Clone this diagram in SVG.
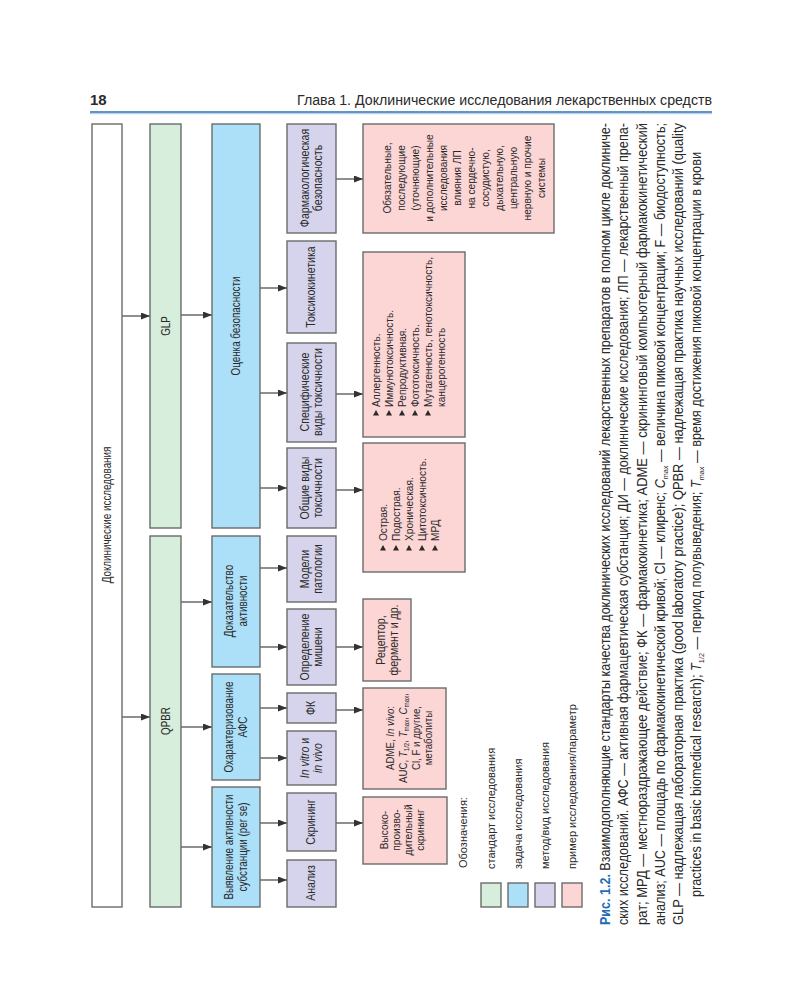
<svg xmlns="http://www.w3.org/2000/svg" width="800" height="1000" viewBox="0 0 800 1000">
<defs>
<style>
text{font-family:"Liberation Sans",Arial,sans-serif;fill:#2a2a2a}
.box{stroke:#6b6b6b;stroke-width:1.4}
.w{fill:#ffffff}.g{fill:#d8eedc}.b{fill:#acdff8}.l{fill:#d6d4ec}.p{fill:#fcd5d5}
.c{text-anchor:middle}
.t12{font-size:12px}.t115{font-size:11.5px}.t11{font-size:11px}
.cap{font-size:14px}
#connectors line{stroke:#333;stroke-width:1.1;marker-end:url(#ah)}
.bul{fill:#2a2a2a}
</style>
<marker id="ah" markerUnits="userSpaceOnUse" markerWidth="9" markerHeight="7" refX="9" refY="3.5" orient="auto">
<path d="M0,0 L9,3.5 L0,7 z" fill="#333"/>
</marker>
<path id="bul" class="bul" d="M-2.5,-3 L3,0 L-2.5,3 z"/>
</defs>
<rect x="0" y="0" width="800" height="1000" fill="#ffffff"/>
<g id="header">
<text x="90" y="105" style="font-size:15px;font-weight:bold">18</text>
<text x="712" y="105" text-anchor="end" style="font-size:14px" textLength="415" lengthAdjust="spacingAndGlyphs">Глава 1. Доклинические исследования лекарственных средств</text>
<line x1="90" y1="112" x2="712" y2="112" stroke="#2e6fb7" stroke-width="1.5"/>
<line x1="90" y1="113.7" x2="712" y2="113.7" stroke="#a9c9e9" stroke-width="1"/>
</g>
<g transform="translate(0,1000) rotate(-90)">
<g id="connectors">
<line x1="684" y1="122" x2="684" y2="150"/>
<line x1="283" y1="122" x2="283" y2="150"/>
<line x1="685" y1="181" x2="685" y2="212"/>
<line x1="398" y1="181" x2="398" y2="212"/>
<line x1="273" y1="181" x2="273" y2="212"/>
<line x1="153" y1="181" x2="153" y2="212"/>
<line x1="712" y1="260" x2="712" y2="287"/>
<line x1="607" y1="260" x2="607" y2="287"/>
<line x1="512" y1="260" x2="512" y2="287"/>
<line x1="432" y1="260" x2="432" y2="287"/>
<line x1="353" y1="260" x2="353" y2="287"/>
<line x1="292" y1="260" x2="292" y2="287"/>
<line x1="242" y1="260" x2="242" y2="287"/>
<line x1="177" y1="260" x2="177" y2="287"/>
<line x1="120" y1="260" x2="120" y2="287"/>
<line x1="821" y1="336" x2="821" y2="363"/>
<line x1="606" y1="336" x2="606" y2="363"/>
<line x1="510" y1="336" x2="510" y2="363"/>
<line x1="353" y1="336" x2="353" y2="363"/>
<line x1="290" y1="336" x2="290" y2="363"/>
<line x1="177" y1="336" x2="177" y2="363"/>
</g>
<g id="n-preclin"><rect class="box w" x="93" y="92" width="783" height="30"/><g transform="scale(0.82,1)"><text class="c t12" x="591.5" y="111">Доклинические исследования</text></g></g>
<g id="n-glp"><rect class="box g" x="472" y="150" width="404" height="31"/><g transform="scale(0.82,1)"><text class="c t12" x="822" y="170">GLP</text></g></g>
<g id="n-qpbr"><rect class="box g" x="93" y="150" width="371" height="31"/><g transform="scale(0.82,1)"><text class="c t12" x="340.2" y="170">QPBR</text></g></g>
<g id="n-safety"><rect class="box b" x="472" y="212" width="404" height="48"/><g transform="scale(0.82,1)"><text class="c t12" x="822" y="240">Оценка безопасности</text></g></g>
<g id="n-proof"><rect class="box b" x="333" y="212" width="131" height="48"/><g transform="scale(0.82,1)"><text class="c t12" x="486.6" y="233">Доказательство</text><text class="c t12" x="486.6" y="247">активности</text></g></g>
<g id="n-char"><rect class="box b" x="220" y="212" width="106" height="48"/><g transform="scale(0.82,1)"><text class="c t12" x="332.9" y="233">Охарактеризование</text><text class="c t12" x="332.9" y="247">АФС</text></g></g>
<g id="n-detect"><rect class="box b" x="93" y="212" width="120" height="48"/><g transform="scale(0.82,1)"><text class="c t12" x="186.6" y="233">Выявление активности</text><text class="c t12" x="186.6" y="247">субстанции (per se)</text></g></g>
<g id="n-pharmsafe"><rect class="box l" x="767" y="287" width="109" height="49"/><g transform="scale(0.88,1)"><text class="c t12" x="934.1" y="309">Фармакологическая</text><text class="c t12" x="934.1" y="322">безопасность</text></g></g>
<g id="n-tk"><rect class="box l" x="667" y="287" width="92" height="49"/><g transform="scale(0.88,1)"><text class="c t12" x="810.2" y="315.5">Токсикокинетика</text></g></g>
<g id="n-spec"><rect class="box l" x="558" y="287" width="99" height="49"/><g transform="scale(0.88,1)"><text class="c t12" x="690.9" y="309">Специфические</text><text class="c t12" x="690.9" y="322">виды токсичности</text></g></g>
<g id="n-gen"><rect class="box l" x="472" y="287" width="80" height="49"/><g transform="scale(0.88,1)"><text class="c t12" x="581.8" y="309">Общие виды</text><text class="c t12" x="581.8" y="322">токсичности</text></g></g>
<g id="n-models"><rect class="box l" x="398" y="287" width="66" height="49"/><g transform="scale(0.88,1)"><text class="c t12" x="489.8" y="309">Модели</text><text class="c t12" x="489.8" y="322">патологии</text></g></g>
<g id="n-target"><rect class="box l" x="315" y="287" width="76" height="49"/><g transform="scale(0.88,1)"><text class="c t12" x="401.1" y="309">Определение</text><text class="c t12" x="401.1" y="322">мишени</text></g></g>
<g id="n-pk"><rect class="box l" x="277" y="287" width="30" height="49"/><g transform="scale(0.88,1)"><text class="c t12" x="331.8" y="315.5">ФК</text></g></g>
<g id="n-invitro"><rect class="box l" x="215" y="287" width="54" height="49"/><g transform="scale(0.88,1)"><text class="c t12" x="275" y="309"><tspan font-style="italic">In vitro</tspan> и</text><text class="c t12" x="275" y="322" font-style="italic">in vivo</text></g></g>
<g id="n-screen"><rect class="box l" x="149" y="287" width="58" height="49"/><g transform="scale(0.88,1)"><text class="c t12" x="202.3" y="315.5">Скрининг</text></g></g>
<g id="n-anal"><rect class="box l" x="93" y="287" width="47" height="49"/><g transform="scale(0.88,1)"><text class="c t12" x="133" y="315.5">Анализ</text></g></g>
<g id="e-pharm"><rect class="box p" x="767" y="363" width="109" height="191"/>
<g transform="scale(0.88,1)"><text class="c t115"><tspan x="934.1" y="391">Обязательные,</tspan><tspan x="934.1" y="405">последующие</tspan><tspan x="934.1" y="419">(уточняющие)</tspan><tspan x="934.1" y="433">и дополнительные</tspan><tspan x="934.1" y="447">исследования</tspan><tspan x="934.1" y="461">влияния ЛП</tspan><tspan x="934.1" y="475">на сердечно-</tspan><tspan x="934.1" y="489">сосудистую,</tspan><tspan x="934.1" y="503">дыхательную,</tspan><tspan x="934.1" y="517">центральную</tspan><tspan x="934.1" y="531">нервную и прочие</tspan><tspan x="934.1" y="545">системы</tspan></text></g></g>
<g id="e-spec"><rect class="box p" x="563" y="363" width="185" height="102"/>
<use href="#bul" x="587" y="376"/><use href="#bul" x="587" y="389"/><use href="#bul" x="587" y="402"/><use href="#bul" x="587" y="415"/><use href="#bul" x="587" y="428"/>
<g transform="scale(0.88,1)"><text class="t115"><tspan x="673.9" y="380">Аллергенность.</tspan><tspan x="673.9" y="393">Иммунотоксичность.</tspan><tspan x="673.9" y="406">Репродуктивная.</tspan><tspan x="673.9" y="419">Фототоксичность.</tspan><tspan x="673.9" y="432">Мутагенность, генотоксичность,</tspan><tspan x="673.9" y="445">канцерогенность</tspan></text></g></g>
<g id="e-gen"><rect class="box p" x="428" y="363" width="129" height="102"/>
<use href="#bul" x="452" y="383"/><use href="#bul" x="452" y="396"/><use href="#bul" x="452" y="409"/><use href="#bul" x="452" y="422"/><use href="#bul" x="452" y="435"/>
<g transform="scale(0.88,1)"><text class="t115"><tspan x="521.6" y="387">Острая.</tspan><tspan x="521.6" y="400">Подострая.</tspan><tspan x="521.6" y="413">Хроническая.</tspan><tspan x="521.6" y="426">Цитотоксичность.</tspan><tspan x="521.6" y="439">МРД</tspan></text></g></g>
<g id="e-receptor"><rect class="box p" x="319" y="363" width="82" height="48"/><g transform="scale(0.88,1)"><text class="c t12" x="409.1" y="385">Рецептор,</text><text class="c t12" x="409.1" y="398">фермент и др.</text></g></g>
<g id="e-adme"><rect class="box p" x="211" y="363" width="101" height="83"/>
<g transform="scale(0.88,1)">
<text class="c t11" x="297.7" y="394">ADME, <tspan font-style="italic">In vivo</tspan>:</text>
<text class="c t11" x="297.7" y="407">AUC, <tspan font-style="italic">T</tspan><tspan font-size="7" dy="2">1/2</tspan><tspan dy="-2">, </tspan><tspan font-style="italic">T</tspan><tspan font-size="7" dy="2">max</tspan><tspan dy="-2">, </tspan><tspan font-style="italic">C</tspan><tspan font-size="7" dy="2">max</tspan><tspan dy="-2">,</tspan></text>
<text class="c t11" x="297.7" y="420">Cl, F и другие,</text>
<text class="c t11" x="297.7" y="432">метаболиты</text></g></g>
<g id="e-hts"><rect class="box p" x="136" y="363" width="67" height="84"/><g transform="scale(0.88,1)"><text class="c t115"><tspan x="193.2" y="388">Высоко-</tspan><tspan x="193.2" y="400">произво-</tspan><tspan x="193.2" y="412">дительный</tspan><tspan x="193.2" y="424">скрининг</tspan></text></g></g>
<g id="legend">
<text class="t11" x="132" y="467">Обозначения:</text>
<rect class="box g" x="93" y="481" width="24" height="20"/><text class="t11" x="131" y="495">стандарт исследования</text>
<rect class="box b" x="93" y="508" width="24" height="20"/><text class="t11" x="131" y="522">задача исследования</text>
<rect class="box l" x="93" y="535" width="24" height="20"/><text class="t11" x="131" y="549">метод/вид исследования</text>
<rect class="box p" x="93" y="562" width="24" height="20"/><text class="t11" x="131" y="576">пример исследования/параметр</text>
</g>
<g id="caption">
<text class="cap" x="75" y="610" textLength="802" lengthAdjust="spacingAndGlyphs"><tspan font-weight="bold" fill="#1e6bb8">Рис. 1.2.</tspan> Взаимодополняющие стандарты качества доклинических исследований лекарственных препаратов в полном цикле доклиниче-</text>
<text class="cap" x="75" y="628" textLength="802" lengthAdjust="spacingAndGlyphs">ских исследований. АФС — активная фармацевтическая субстанция; ДИ — доклинические исследования; ЛП — лекарственный препа-</text>
<text class="cap" x="75" y="647" textLength="802" lengthAdjust="spacingAndGlyphs">рат; МРД — местнораздражающее действие; ФК — фармакокинетика; ADME — скрининговый компьютерный фармакокинетический</text>
<text class="cap" x="75" y="665" textLength="802" lengthAdjust="spacingAndGlyphs">анализ; AUC — площадь по фармакокинетической кривой; Cl — клиренс; <tspan font-style="italic">C</tspan><tspan font-size="8" dy="3">max</tspan><tspan dy="-3"> — величина пиковой концентрации; F — биодоступность;</tspan></text>
<text class="cap" x="75" y="683" textLength="802" lengthAdjust="spacingAndGlyphs">GLP — надлежащая лабораторная практика (good laboratory practice); QPBR — надлежащая практика научных исследований (quality</text>
<text class="cap" x="103" y="701" textLength="745" lengthAdjust="spacingAndGlyphs">practices in basic biomedical research); <tspan font-style="italic">T</tspan><tspan font-size="8" dy="3">1/2</tspan><tspan dy="-3"> — период полувыведения; </tspan><tspan font-style="italic">T</tspan><tspan font-size="8" dy="3">max</tspan><tspan dy="-3"> — время достижения пиковой концентрации в крови</tspan></text>
</g>
</g>
</svg>
